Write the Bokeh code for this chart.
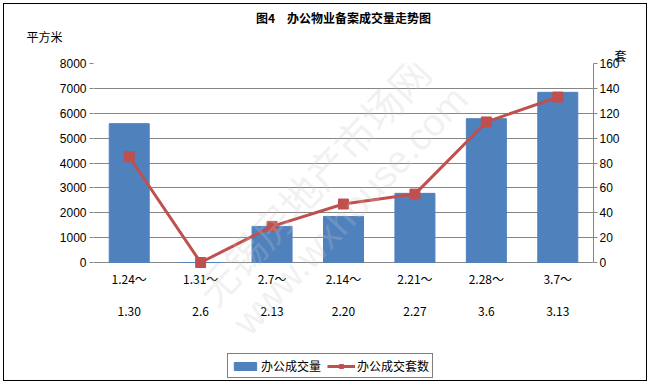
from bokeh.plotting import figure
from bokeh.models import (Range1d, LinearAxis, FixedTicker, Label, Legend,
                          LegendItem, FactorRange, Title)
from bokeh.core.properties import value
from bokeh.embed import file_html
from bokeh.resources import INLINE

period_start = ["1.24～", "1.31～", "2.7～", "2.14～", "2.21～", "2.28～", "3.7～"]
period_end = ["1.30", "2.6", "2.13", "2.20", "2.27", "3.6", "3.13"]
office_area = [5580, 0, 1450, 1850, 2780, 5780, 6840]
office_units = [85, 0, 29, 47, 55, 113, 133]
left_ticks = [0, 1000, 2000, 3000, 4000, 5000, 6000, 7000, 8000]
right_ticks = [0, 20, 40, 60, 80, 100, 120, 140, 160]

FONT = "Noto Sans CJK SC"
W, H = 644, 378
FL, FT, FR = 89, 59, 589          # frame left / top / right (figure px)
Y0 = 258                          # pixel row of the value 0
LMAX, RMAX = 8000, 160
# the plotting frame runs down to the bottom edge so that the category labels
# and the legend below the baseline can live inside it
lmin = -LMAX * (H - Y0) / (Y0 - FT)
rmin = -RMAX * (H - Y0) / (Y0 - FT)

cats = period_start

p = figure(width=W, height=H, x_range=FactorRange(*cats), y_range=Range1d(lmin, LMAX),
           output_backend="svg", toolbar_location=None, x_axis_location=None,
           min_border_left=FL, min_border_right=W - FR, min_border_top=FT,
           min_border_bottom=0)
p.extra_y_ranges = {"right": Range1d(rmin, RMAX)}
p.outline_line_color = None
p.background_fill_color = "white"
p.border_fill_color = "white"
p.styles = {"border": "1px solid #000", "margin": "3px"}

bars = p.vbar(x=cats, top=office_area, width=0.56, color="#4F81BD")
line = p.line(x=cats, y=office_units, y_range_name="right", line_color="#C0504D", line_width=3)
pts = p.scatter(x=cats, y=office_units, y_range_name="right", marker="square", size=10,
                color="#C0504D")

p.xgrid.visible = False
p.ygrid.grid_line_color = "#868686"
p.ygrid.ticker = FixedTicker(ticks=left_ticks)

ax = p.yaxis[0]
ax.ticker = FixedTicker(ticks=left_ticks)
ax.bounds = (0, LMAX)
ax.axis_line_color = None
ax.major_tick_line_color = "#868686"
ax.major_tick_out = 4
ax.major_tick_in = 0
ax.minor_tick_line_color = None
ax.major_label_text_font = "Liberation Sans"
ax.major_label_text_font_size = "12px"
ax.major_label_text_color = "black"
ax.major_label_standoff = 3

rax = LinearAxis(y_range_name="right", ticker=FixedTicker(ticks=right_ticks))
rax.bounds = (0, RMAX)
rax.axis_line_color = "#868686"
rax.major_tick_line_color = "#868686"
rax.major_tick_out = 4
rax.major_tick_in = 0
rax.minor_tick_line_color = None
rax.major_label_text_font = "Liberation Sans"
rax.major_label_text_font_size = "12px"
rax.major_label_text_color = "black"
rax.major_label_standoff = 2
p.add_layout(rax, "right")

# category labels (two lines under each bar)
p.text(x=cats, y=[0] * len(cats), text=period_start, y_offset=16,
       text_font=value(FONT), text_font_size="12px", text_color="black",
       text_align="center", text_baseline="middle")
p.text(x=cats, y=[0] * len(cats), text=period_end, y_offset=49,
       text_font=value(FONT), text_font_size="12px", text_color="black",
       text_align="center", text_baseline="middle")

# watermark
fb = H - Y0
p.add_layout(Label(x=219, y=82 + fb, x_units="screen", y_units="screen",
                   text="无锡房地产市场网", text_font=FONT, text_font_size="40px",
                   text_color="#c8c8c8", text_alpha=0.25, angle=47, angle_units="deg",
                   text_align="center", text_baseline="middle"))
p.add_layout(Label(x=257, y=52 + fb, x_units="screen", y_units="screen",
                   text="www.wxhouse.com", text_font="Liberation Sans", text_font_size="38px",
                   text_color="#c8c8c8", text_alpha=0.25, angle=47, angle_units="deg",
                   text_align="center", text_baseline="middle"))

# texts above the plot (stacked from the frame upward)
p.title = None
p.add_layout(Title(text="套", align="right", offset=-33, standoff=0, text_color="black",
                   text_font=FONT, text_font_size="12px", text_font_style="normal"), "above")
p.add_layout(Title(text="平方米", align="left", offset=-67, standoff=0, text_color="black",
                   text_font=FONT, text_font_size="12px", text_font_style="normal"), "above")
p.add_layout(Title(text="图4　办公物业备案成交量走势图", align="center", offset=-17, standoff=0,
                   text_color="black", text_font=FONT, text_font_size="12px",
                   text_font_style="bold"), "above")

legend = Legend(items=[LegendItem(label="办公成交量", renderers=[bars]),
                       LegendItem(label="办公成交套数", renderers=[line, pts])],
                orientation="horizontal", location=(134, 4))
legend.border_line_color = "black"
legend.border_line_width = 1
legend.background_fill_color = "white"
legend.background_fill_alpha = 1
legend.label_text_font = FONT
legend.label_text_font_size = "12px"
legend.label_text_color = "black"
legend.glyph_width = 28
legend.glyph_height = 10
legend.padding = 3
legend.spacing = 6
legend.margin = 0
legend.label_standoff = 2
p.add_layout(legend, "center")

open("out.html", "w").write(file_html(p, INLINE))
